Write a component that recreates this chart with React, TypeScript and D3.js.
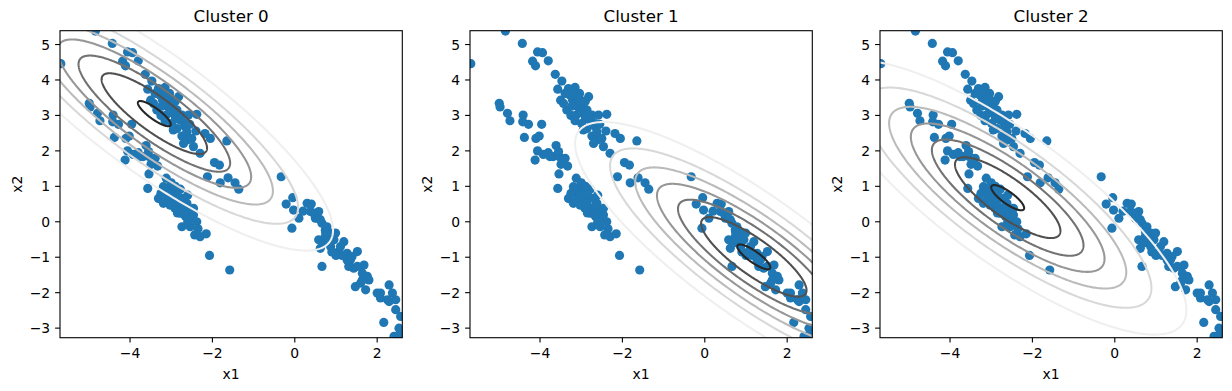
import React from 'react';
import * as d3 from 'd3';

// scatter points (same data in every panel)
const upperBand: [number, number][] = [
  [-5.68, 4.46], [-4.84, 5.38], [-4.43, 5.03], [-4.18, 4.53], [-4.11, 4.4], [-4.06, 4.79],
  [-3.94, 4.77], [-3.8, 4.54], [-3.63, 4.16], [-3.47, 3.97], [-3.57, 3.74], [-3.5, 3.43],
  [-3.31, 3.76], [-3.15, 3.79], [-3.04, 3.62], [-2.82, 3.53], [-3.35, 3.15], [-3.21, 3.43],
  [-3.07, 3.24], [-2.95, 3.26], [-3.12, 3.01], [-2.91, 3.01], [-2.74, 3.01], [-2.58, 3.01],
  [-2.38, 3.03], [-2.99, 2.77], [-2.86, 2.63], [-2.66, 2.68], [-2.74, 2.42], [-2.62, 2.31],
  [-2.46, 2.12], [-2.4, 2.56], [-2.18, 2.49], [-2.05, 2.35], [-2.3, 1.93], [-1.65, 2.28],
  [-1.95, 1.67], [-1.83, 1.6], [-2.12, 1.27], [-1.81, 1.1], [-1.62, 1.24], [-1.45, 1.1],
  [-1.36, 0.92], [-3.27, 3.57], [-3.11, 3.34], [-3.01, 3.43], [-3.23, 3.26], [-2.86, 3.15],
  [-2.78, 2.87], [-2.95, 2.59], [-2.62, 2.54], [-2.5, 2.35], [-3.39, 3.62], [-3.43, 3.34],
  [-3.03, 3.08], [-2.7, 2.21], [-3.2, 3.7], [-3.1, 3.55], [-2.9, 3.4], [-3.0, 3.1],
  [-2.8, 2.95], [-2.7, 2.8], [-2.55, 2.75], [-2.9, 2.9], [-3.25, 3.0], [-3.15, 2.85],
];

const lowerBand: [number, number][] = [
  [-4.99, 3.34], [-4.97, 3.24], [-4.79, 3.06], [-4.73, 2.85], [-4.41, 3.01], [-4.42, 2.82],
  [-4.28, 2.75], [-3.96, 2.75], [-4.38, 2.38], [-4.1, 2.35], [-4.02, 2.42], [-4.06, 2.0],
  [-3.92, 1.9], [-3.8, 1.95], [-4.12, 1.74], [-3.61, 2.15], [-3.68, 1.84], [-3.54, 1.84],
  [-3.39, 1.79], [-3.49, 1.62], [-3.33, 1.57], [-3.54, 1.35], [-3.12, 1.23], [-3.57, 0.94],
  [-3.19, 0.99], [-3.03, 0.99], [-2.95, 0.85], [-2.78, 0.92], [-3.31, 0.66], [-3.19, 0.52],
  [-3.07, 0.71], [-2.95, 0.61], [-2.82, 0.66], [-2.7, 0.66], [-2.91, 0.38], [-2.74, 0.38],
  [-2.62, 0.52], [-2.46, 0.38], [-2.66, 0.16], [-2.48, 0.1], [-2.54, -0.14], [-2.74, -0.14],
  [-2.43, -0.37], [-2.3, -0.42], [-2.15, -0.34], [-2.07, -0.95], [-1.58, -1.36],
  [-3.11, 0.85], [-2.99, 0.76], [-3.11, 0.61], [-3.03, 0.47], [-2.86, 0.52], [-2.78, 0.24],
  [-2.58, 0.29], [-2.46, 0.19], [-2.38, 0.0], [-3.43, 1.74], [-3.76, 1.84], [-3.55, 1.98],
  [-3.25, 0.8], [-2.85, 0.78], [-2.6, 0.75], [-2.65, 0.45], [-2.85, 0.25], [-2.6, 0.0],
  [-2.35, -0.2], [-3.0, 1.1], [-2.9, 1.0],
];

const rightBand: [number, number][] = [
  [-0.33, 1.27], [-0.21, 0.5], [-0.05, 0.68], [-0.03, 0.33], [0.1, 0.1], [-0.07, -0.18],
  [0.3, 0.52], [0.38, 0.29], [0.58, 0.29], [0.5, 0.1], [0.66, -0.04], [0.74, -0.23],
  [0.83, -0.37], [0.58, -0.51], [0.62, -0.75], [0.87, -0.7], [0.95, -0.51], [1.19, -0.56],
  [1.07, -0.84], [1.27, -0.89], [1.35, -1.08], [1.52, -0.84], [1.31, -1.26], [1.43, -1.31],
  [0.66, -1.26], [1.68, -1.22], [1.64, -1.45], [1.76, -1.54], [1.8, -1.64], [1.47, -1.83],
  [1.6, -1.73], [1.72, -1.92], [2.0, -2.01], [2.08, -2.15], [2.29, -1.78], [2.37, -2.01],
  [2.25, -2.2], [2.45, -2.48], [2.57, -2.67], [2.16, -2.84], [2.53, -3.0], [2.41, -3.23],
  [2.61, -3.14], [0.46, 0.24], [0.62, 0.06], [0.78, -0.14], [0.87, -0.32], [0.99, -0.32],
  [0.74, -0.42], [1.11, -0.7], [1.39, -0.98], [1.27, -1.08], [1.52, -1.26], [1.64, -1.64],
  [2.08, -2.01], [2.29, -2.25], [2.45, -2.2], [2.49, -3.23], [0.7, -0.6], [0.8, -0.5],
  [0.9, -0.85], [0.75, -0.3], [0.55, 0.1], [1.0, -0.95], [1.15, -0.95], [0.4, 0.5], [0.2, 0.3],
];

// gaussian of each cluster
const clusterNames = ['Cluster 0', 'Cluster 1', 'Cluster 2'];
const clusterMeans: [number, number][] = [[-3.41, 3.05], [1.19, -0.99], [-2.6, 0.68]];
const clusterSigmas: [number, number][] = [[2.19, 1.95], [2.19, 1.92], [2.19, 1.95]];
const clusterRho = [-0.85, -0.84, -0.82];
// contour levels as a fraction of the peak density
const levelFractions = [0.1405, 0.281, 0.4215, 0.562, 0.7025, 0.843, 0.9835];

const xDomain: [number, number] = [-5.7, 2.61];
const yDomain: [number, number] = [-3.27, 5.39];
const xTicks = [-4, -2, 0, 2];
const yTicks = [-3, -2, -1, 0, 1, 2, 3, 4, 5];

const W = 1232;
const H = 391;
const panelLeft = [60, 470, 880];
const panelW = 342.3;
const top = 30.7;
const panelH = 307;
const font = 'DejaVu Sans, sans-serif';

const fmt = (v: number) => String(v).replace('-', '\u2212');

function Panel({ idx }: { idx: number }) {
  const left = panelLeft[idx];
  const x = d3.scaleLinear().domain(xDomain).range([left, left + panelW]);
  const y = d3.scaleLinear().domain(yDomain).range([top + panelH, top]);
  const points = [...upperBand, ...lowerBand, ...rightBand];

  const [mx, my] = clusterMeans[idx];
  const [sx, sy] = clusterSigmas[idx];
  const rho = clusterRho[idx];
  const angles = d3.range(0, 360).map((d) => (d * Math.PI) / 180);
  const ellipse = (r: number) =>
    d3
      .line<number>()
      .x((t) => x(mx + r * sx * Math.cos(t)))
      .y((t) => y(my + r * sy * (rho * Math.cos(t) + Math.sqrt(1 - rho * rho) * Math.sin(t))))
      .curve(d3.curveLinearClosed)(angles) as string;

  // greys colormap, normed as if one more level sat above the peak
  const color = d3.scaleSequential(d3.interpolateGreys).domain([0, levelFractions.length + 1]);

  const clipId = `clip-${idx}`;
  const cx = left + panelW / 2;

  return (
    <g>
      <defs>
        <clipPath id={clipId}>
          <rect x={left} y={top} width={panelW} height={panelH} />
        </clipPath>
      </defs>
      <g clipPath={`url(#${clipId})`}>
        {points.map((p, i) => (
          <circle key={i} cx={x(p[0])} cy={y(p[1])} r={4.6} fill="#1f77b4" />
        ))}
        {levelFractions.map((f, k) => (
          <path
            key={k}
            d={ellipse(Math.sqrt(-2 * Math.log(f)))}
            fill="none"
            stroke={color(k + 1)}
            strokeWidth={2.08}
          />
        ))}
      </g>
      <rect x={left} y={top} width={panelW} height={panelH} fill="none" stroke="#000" strokeWidth={1.1} />
      {xTicks.map((t) => (
        <g key={t}>
          <line x1={x(t)} x2={x(t)} y1={top + panelH} y2={top + panelH + 4.9} stroke="#000" strokeWidth={1.1} />
          <text x={x(t)} y={357.5} textAnchor="middle" fontSize={13.9} fontFamily={font}>
            {fmt(t)}
          </text>
        </g>
      ))}
      {yTicks.map((t) => (
        <g key={t}>
          <line x1={left - 4.9} x2={left} y1={y(t)} y2={y(t)} stroke="#000" strokeWidth={1.1} />
          <text x={left - 9.8} y={y(t) + 5} textAnchor="end" fontSize={13.9} fontFamily={font}>
            {fmt(t)}
          </text>
        </g>
      ))}
      <text x={cx} y={22.4} textAnchor="middle" fontSize={16.7} fontFamily={font}>
        {clusterNames[idx]}
      </text>
      <text x={cx} y={379} textAnchor="middle" fontSize={13.9} fontFamily={font}>
        x1
      </text>
      <text
        transform={`translate(${left - 38},${top + panelH / 2}) rotate(-90)`}
        textAnchor="middle"
        fontSize={13.9}
        fontFamily={font}
      >
        x2
      </text>
    </g>
  );
}

export default function App() {
  return (
    <svg
      width={W}
      height={H}
      style={{ position: 'absolute', left: 0, top: 0, background: '#fff' }}
    >
      {clusterNames.map((_, i) => (
        <Panel key={i} idx={i} />
      ))}
    </svg>
  );
}
